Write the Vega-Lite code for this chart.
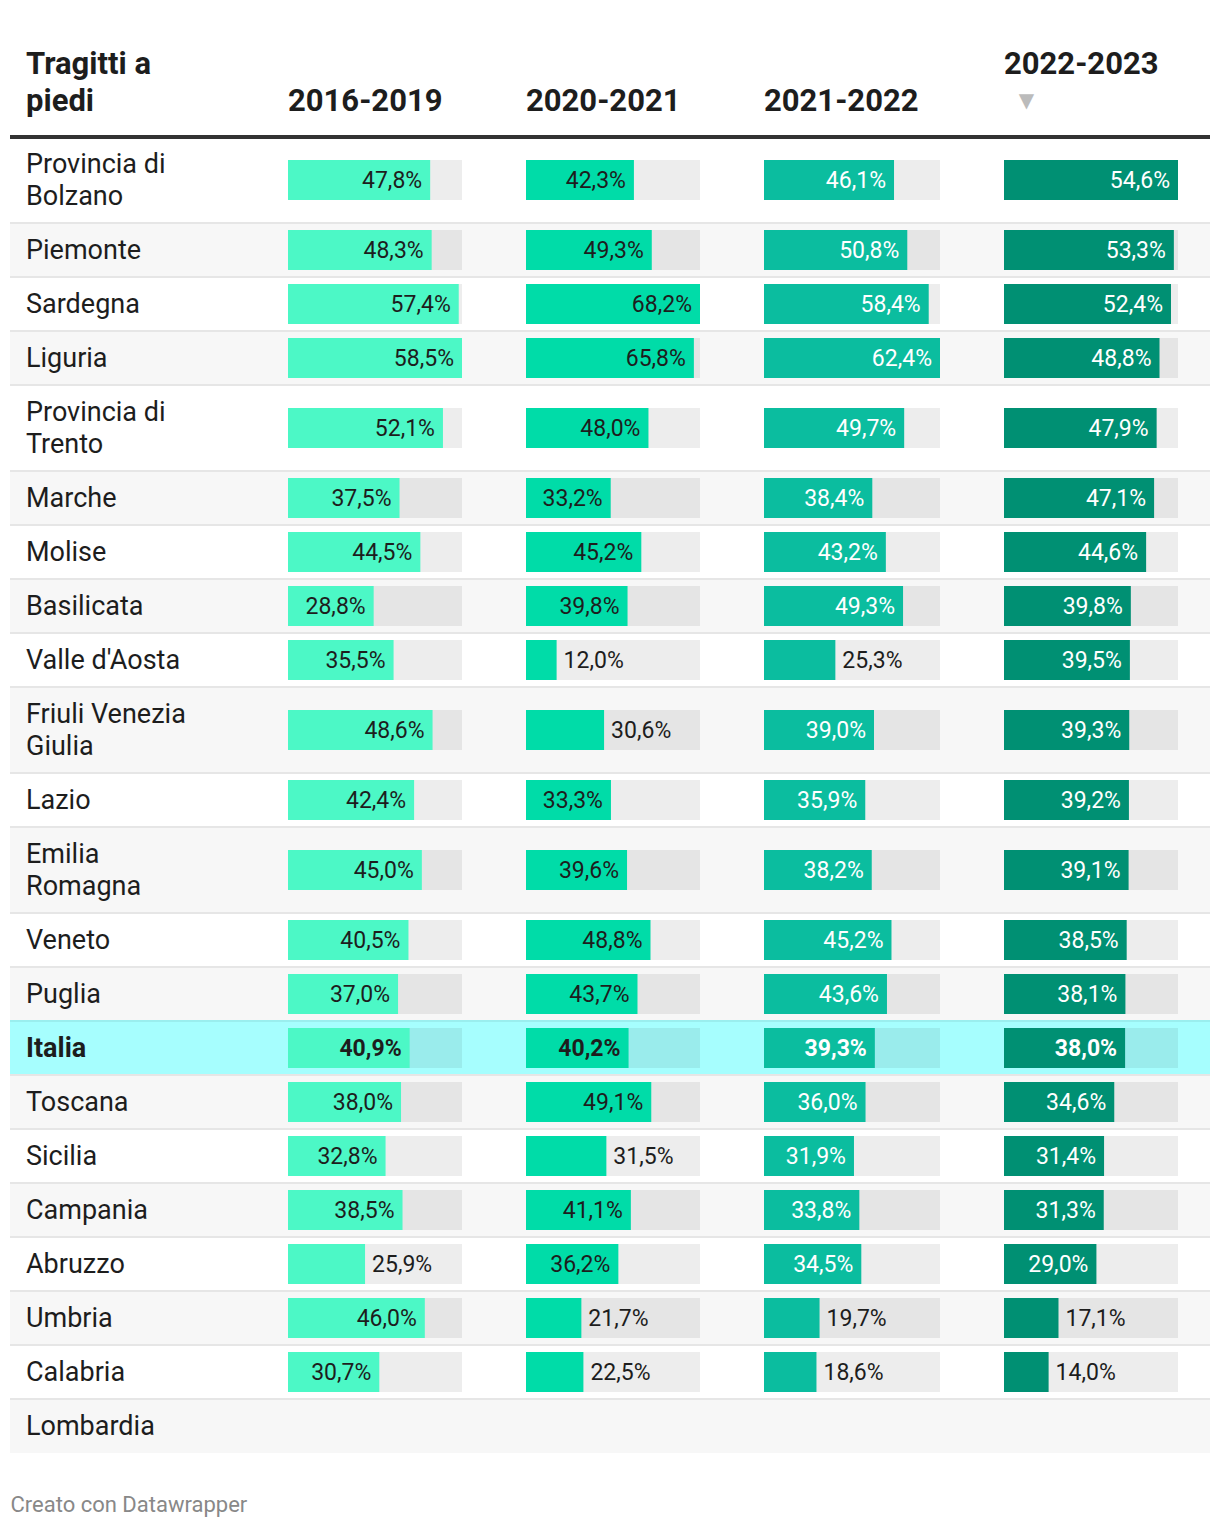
{
  "$schema": "https://vega.github.io/schema/vega-lite/v6.json",
  "padding": {"left": 8, "right": 10, "top": 48, "bottom": 10},
  "background": "#ffffff",
  "config": {
    "font": "Roboto",
    "view": {"stroke": null},
    "title": {"font": "Roboto", "fontSize": 31, "fontWeight": "bold", "color": "#1d1d1d", "anchor": "start", "lineHeight": 37, "frame": "group"}
  },
  "data": {"values": [
    {"regione": "Provincia di\nBolzano", "2016-2019": 47.8, "2020-2021": 42.3, "2021-2022": 46.1, "2022-2023": 54.6},
    {"regione": "Piemonte", "2016-2019": 48.3, "2020-2021": 49.3, "2021-2022": 50.8, "2022-2023": 53.3},
    {"regione": "Sardegna", "2016-2019": 57.4, "2020-2021": 68.2, "2021-2022": 58.4, "2022-2023": 52.4},
    {"regione": "Liguria", "2016-2019": 58.5, "2020-2021": 65.8, "2021-2022": 62.4, "2022-2023": 48.8},
    {"regione": "Provincia di\nTrento", "2016-2019": 52.1, "2020-2021": 48.0, "2021-2022": 49.7, "2022-2023": 47.9},
    {"regione": "Marche", "2016-2019": 37.5, "2020-2021": 33.2, "2021-2022": 38.4, "2022-2023": 47.1},
    {"regione": "Molise", "2016-2019": 44.5, "2020-2021": 45.2, "2021-2022": 43.2, "2022-2023": 44.6},
    {"regione": "Basilicata", "2016-2019": 28.8, "2020-2021": 39.8, "2021-2022": 49.3, "2022-2023": 39.8},
    {"regione": "Valle d'Aosta", "2016-2019": 35.5, "2020-2021": 12.0, "2021-2022": 25.3, "2022-2023": 39.5},
    {"regione": "Friuli Venezia\nGiulia", "2016-2019": 48.6, "2020-2021": 30.6, "2021-2022": 39.0, "2022-2023": 39.3},
    {"regione": "Lazio", "2016-2019": 42.4, "2020-2021": 33.3, "2021-2022": 35.9, "2022-2023": 39.2},
    {"regione": "Emilia\nRomagna", "2016-2019": 45.0, "2020-2021": 39.6, "2021-2022": 38.2, "2022-2023": 39.1},
    {"regione": "Veneto", "2016-2019": 40.5, "2020-2021": 48.8, "2021-2022": 45.2, "2022-2023": 38.5},
    {"regione": "Puglia", "2016-2019": 37.0, "2020-2021": 43.7, "2021-2022": 43.6, "2022-2023": 38.1},
    {"regione": "Italia", "2016-2019": 40.9, "2020-2021": 40.2, "2021-2022": 39.3, "2022-2023": 38.0},
    {"regione": "Toscana", "2016-2019": 38.0, "2020-2021": 49.1, "2021-2022": 36.0, "2022-2023": 34.6},
    {"regione": "Sicilia", "2016-2019": 32.8, "2020-2021": 31.5, "2021-2022": 31.9, "2022-2023": 31.4},
    {"regione": "Campania", "2016-2019": 38.5, "2020-2021": 41.1, "2021-2022": 33.8, "2022-2023": 31.3},
    {"regione": "Abruzzo", "2016-2019": 25.9, "2020-2021": 36.2, "2021-2022": 34.5, "2022-2023": 29.0},
    {"regione": "Umbria", "2016-2019": 46.0, "2020-2021": 21.7, "2021-2022": 19.7, "2022-2023": 17.1},
    {"regione": "Calabria", "2016-2019": 30.7, "2020-2021": 22.5, "2021-2022": 18.6, "2022-2023": 14.0},
    {"regione": "Lombardia", "2016-2019": null, "2020-2021": null, "2021-2022": null, "2022-2023": null}
  ]},
  "transform": [
    {"calculate": "length(split(datum.regione, '\\n'))", "as": "righe"},
    {"calculate": "22 + 32 * datum.righe", "as": "h"},
    {"window": [{"op": "sum", "field": "h", "as": "bottom"}, {"op": "row_number", "as": "idx"}], "frame": [null, 0]},
    {"calculate": "datum.bottom - datum.h", "as": "top"},
    {"calculate": "datum.top + datum.h / 2", "as": "mid"}
  ],
  "title": {"text": "Creato con Datawrapper", "orient": "bottom", "anchor": "start", "frame": "bounds", "fontSize": 22, "fontWeight": "normal", "color": "#888888", "offset": 42, "dx": 2},
  "spacing": 0,
  "bounds": "flush",
  "hconcat": [
    {
      "width": 278, "height": 1316,
      "title": {"text": ["Tragitti a", "piedi"], "dx": 16, "offset": 18},
      "layer": [
        {"mark": {"type": "rect"}, "encoding": {
          "y": {"field": "top", "type": "quantitative", "scale": {"nice": false, "zero": true, "reverse": true, "padding": 0}, "axis": null},
          "y2": {"field": "bottom"}, "x": {"value": 0}, "x2": {"value": "width"},
          "color": {"condition": [{"test": "datum.regione === 'Italia'", "value": "#a6fefe"}, {"test": "datum.idx % 2 === 0", "value": "#f7f7f7"}], "value": "#ffffff"}}},
        {"mark": {"type": "rule", "strokeWidth": 2}, "encoding": {
          "y": {"field": "top", "type": "quantitative"}, "x": {"value": 0}, "x2": {"value": "width"},
          "color": {"condition": {"test": "datum.regione === 'Italia'", "value": "#9aeeee"}, "value": "#e6e6e6"}}},
        {"mark": {"type": "text", "align": "left", "baseline": "middle", "dx": 16, "fontSize": 27, "lineHeight": 32, "lineBreak": "\n", "color": "#1d1d1d",
            "dy": {"expr": "1 - (datum.righe - 1) * 16"},
            "fontWeight": {"expr": "datum.regione === 'Italia' ? 'bold' : 'normal'"}}, "encoding": {
          "y": {"field": "mid", "type": "quantitative"}, "x": {"value": 0}, "text": {"field": "regione"}}},
        {"mark": {"type": "rule", "strokeWidth": 3, "color": "#333333"}, "encoding": {"y": {"datum": 0}, "x": {"value": 0}, "x2": {"value": "width"}}}
      ]
    },
    {
      "width": 238, "height": 1316,
      "title": {"text": "2016-2019", "offset": 18},
      "layer": [
        {"mark": {"type": "rect"}, "encoding": {
          "y": {"field": "top", "type": "quantitative", "scale": {"nice": false, "zero": true, "reverse": true, "padding": 0}, "axis": null},
          "y2": {"field": "bottom"}, "x": {"value": 0}, "x2": {"value": "width"},
          "color": {"condition": [{"test": "datum.regione === 'Italia'", "value": "#a6fefe"}, {"test": "datum.idx % 2 === 0", "value": "#f7f7f7"}], "value": "#ffffff"}}},
        {"mark": {"type": "rule", "strokeWidth": 2}, "encoding": {
          "y": {"field": "top", "type": "quantitative"}, "x": {"value": 0}, "x2": {"value": "width"},
          "color": {"condition": {"test": "datum.regione === 'Italia'", "value": "#9aeeee"}, "value": "#e6e6e6"}}},
        {"transform": [{"filter": "isValid(datum['2016-2019'])"}, {"joinaggregate": [{"op": "max", "field": "2016-2019", "as": "vmax"}]}],
          "mark": {"type": "bar", "orient": "horizontal", "height": 40, "color": "#000000", "opacity": 0.07},
          "encoding": {"y": {"field": "mid", "type": "quantitative"}, "x": {"field": "vmax", "type": "quantitative", "scale": {"range": [0, 174], "nice": false, "zero": true, "padding": 0}, "axis": null}}},
        {"transform": [{"filter": "isValid(datum['2016-2019'])"}],
          "mark": {"type": "bar", "orient": "horizontal", "height": 40, "color": "#4cf8c6"},
          "encoding": {"y": {"field": "mid", "type": "quantitative"}, "x": {"field": "2016-2019", "type": "quantitative"}}},
        {"transform": [{"filter": "isValid(datum['2016-2019'])"}, {"joinaggregate": [{"op": "max", "field": "2016-2019", "as": "vmax"}]}, {"calculate": "replace(format(datum['2016-2019'], '.1f'), '.', ',') + '%'", "as": "etichetta"}],
          "mark": {"type": "text", "baseline": "middle", "fontSize": 23, "color": "#1d1d1d", "dy": 1,
            "align": {"expr": "datum['2016-2019'] / datum.vmax > 0.475 ? 'right' : 'left'"},
            "dx": {"expr": "datum['2016-2019'] / datum.vmax > 0.475 ? -8 : 7"},
            "fontWeight": {"expr": "datum.regione === 'Italia' ? 'bold' : 'normal'"}},
          "encoding": {"y": {"field": "mid", "type": "quantitative"}, "x": {"field": "2016-2019", "type": "quantitative"}, "text": {"field": "etichetta"}}},
        {"mark": {"type": "rule", "strokeWidth": 3, "color": "#333333"}, "encoding": {"y": {"datum": 0}, "x": {"value": 0}, "x2": {"value": "width"}}}
      ]
    },
    {
      "width": 238, "height": 1316,
      "title": {"text": "2020-2021", "offset": 18},
      "layer": [
        {"mark": {"type": "rect"}, "encoding": {
          "y": {"field": "top", "type": "quantitative", "scale": {"nice": false, "zero": true, "reverse": true, "padding": 0}, "axis": null},
          "y2": {"field": "bottom"}, "x": {"value": 0}, "x2": {"value": "width"},
          "color": {"condition": [{"test": "datum.regione === 'Italia'", "value": "#a6fefe"}, {"test": "datum.idx % 2 === 0", "value": "#f7f7f7"}], "value": "#ffffff"}}},
        {"mark": {"type": "rule", "strokeWidth": 2}, "encoding": {
          "y": {"field": "top", "type": "quantitative"}, "x": {"value": 0}, "x2": {"value": "width"},
          "color": {"condition": {"test": "datum.regione === 'Italia'", "value": "#9aeeee"}, "value": "#e6e6e6"}}},
        {"transform": [{"filter": "isValid(datum['2020-2021'])"}, {"joinaggregate": [{"op": "max", "field": "2020-2021", "as": "vmax"}]}],
          "mark": {"type": "bar", "orient": "horizontal", "height": 40, "color": "#000000", "opacity": 0.07},
          "encoding": {"y": {"field": "mid", "type": "quantitative"}, "x": {"field": "vmax", "type": "quantitative", "scale": {"range": [0, 174], "nice": false, "zero": true, "padding": 0}, "axis": null}}},
        {"transform": [{"filter": "isValid(datum['2020-2021'])"}],
          "mark": {"type": "bar", "orient": "horizontal", "height": 40, "color": "#00dca8"},
          "encoding": {"y": {"field": "mid", "type": "quantitative"}, "x": {"field": "2020-2021", "type": "quantitative"}}},
        {"transform": [{"filter": "isValid(datum['2020-2021'])"}, {"joinaggregate": [{"op": "max", "field": "2020-2021", "as": "vmax"}]}, {"calculate": "replace(format(datum['2020-2021'], '.1f'), '.', ',') + '%'", "as": "etichetta"}],
          "mark": {"type": "text", "baseline": "middle", "fontSize": 23, "color": "#1d1d1d", "dy": 1,
            "align": {"expr": "datum['2020-2021'] / datum.vmax > 0.475 ? 'right' : 'left'"},
            "dx": {"expr": "datum['2020-2021'] / datum.vmax > 0.475 ? -8 : 7"},
            "fontWeight": {"expr": "datum.regione === 'Italia' ? 'bold' : 'normal'"}},
          "encoding": {"y": {"field": "mid", "type": "quantitative"}, "x": {"field": "2020-2021", "type": "quantitative"}, "text": {"field": "etichetta"}}},
        {"mark": {"type": "rule", "strokeWidth": 3, "color": "#333333"}, "encoding": {"y": {"datum": 0}, "x": {"value": 0}, "x2": {"value": "width"}}}
      ]
    },
    {
      "width": 240, "height": 1316,
      "title": {"text": "2021-2022", "offset": 18},
      "layer": [
        {"mark": {"type": "rect"}, "encoding": {
          "y": {"field": "top", "type": "quantitative", "scale": {"nice": false, "zero": true, "reverse": true, "padding": 0}, "axis": null},
          "y2": {"field": "bottom"}, "x": {"value": 0}, "x2": {"value": "width"},
          "color": {"condition": [{"test": "datum.regione === 'Italia'", "value": "#a6fefe"}, {"test": "datum.idx % 2 === 0", "value": "#f7f7f7"}], "value": "#ffffff"}}},
        {"mark": {"type": "rule", "strokeWidth": 2}, "encoding": {
          "y": {"field": "top", "type": "quantitative"}, "x": {"value": 0}, "x2": {"value": "width"},
          "color": {"condition": {"test": "datum.regione === 'Italia'", "value": "#9aeeee"}, "value": "#e6e6e6"}}},
        {"transform": [{"filter": "isValid(datum['2021-2022'])"}, {"joinaggregate": [{"op": "max", "field": "2021-2022", "as": "vmax"}]}],
          "mark": {"type": "bar", "orient": "horizontal", "height": 40, "color": "#000000", "opacity": 0.07},
          "encoding": {"y": {"field": "mid", "type": "quantitative"}, "x": {"field": "vmax", "type": "quantitative", "scale": {"range": [0, 176], "nice": false, "zero": true, "padding": 0}, "axis": null}}},
        {"transform": [{"filter": "isValid(datum['2021-2022'])"}],
          "mark": {"type": "bar", "orient": "horizontal", "height": 40, "color": "#0bbd9f"},
          "encoding": {"y": {"field": "mid", "type": "quantitative"}, "x": {"field": "2021-2022", "type": "quantitative"}}},
        {"transform": [{"filter": "isValid(datum['2021-2022'])"}, {"joinaggregate": [{"op": "max", "field": "2021-2022", "as": "vmax"}]}, {"calculate": "replace(format(datum['2021-2022'], '.1f'), '.', ',') + '%'", "as": "etichetta"}],
          "mark": {"type": "text", "baseline": "middle", "fontSize": 23, "dy": 1,
            "align": {"expr": "datum['2021-2022'] / datum.vmax > 0.475 ? 'right' : 'left'"},
            "dx": {"expr": "datum['2021-2022'] / datum.vmax > 0.475 ? -8 : 7"},
            "fontWeight": {"expr": "datum.regione === 'Italia' ? 'bold' : 'normal'"}},
          "encoding": {"y": {"field": "mid", "type": "quantitative"}, "x": {"field": "2021-2022", "type": "quantitative"}, "text": {"field": "etichetta"},
            "color": {"condition": {"test": "datum['2021-2022'] / datum.vmax > 0.475", "value": "#ffffff"}, "value": "#1d1d1d"}}},
        {"mark": {"type": "rule", "strokeWidth": 3, "color": "#333333"}, "encoding": {"y": {"datum": 0}, "x": {"value": 0}, "x2": {"value": "width"}}}
      ]
    },
    {
      "width": 206, "height": 1316,
      "title": {"text": "2022-2023", "subtitle": "\u2800▼", "subtitleFont": "DejaVu Sans", "subtitleFontSize": 20, "subtitleColor": "#bbbbbb", "subtitlePadding": 10, "offset": 24},
      "layer": [
        {"mark": {"type": "rect"}, "encoding": {
          "y": {"field": "top", "type": "quantitative", "scale": {"nice": false, "zero": true, "reverse": true, "padding": 0}, "axis": null},
          "y2": {"field": "bottom"}, "x": {"value": 0}, "x2": {"value": "width"},
          "color": {"condition": [{"test": "datum.regione === 'Italia'", "value": "#a6fefe"}, {"test": "datum.idx % 2 === 0", "value": "#f7f7f7"}], "value": "#ffffff"}}},
        {"mark": {"type": "rule", "strokeWidth": 2}, "encoding": {
          "y": {"field": "top", "type": "quantitative"}, "x": {"value": 0}, "x2": {"value": "width"},
          "color": {"condition": {"test": "datum.regione === 'Italia'", "value": "#9aeeee"}, "value": "#e6e6e6"}}},
        {"transform": [{"filter": "isValid(datum['2022-2023'])"}, {"joinaggregate": [{"op": "max", "field": "2022-2023", "as": "vmax"}]}],
          "mark": {"type": "bar", "orient": "horizontal", "height": 40, "color": "#000000", "opacity": 0.07},
          "encoding": {"y": {"field": "mid", "type": "quantitative"}, "x": {"field": "vmax", "type": "quantitative", "scale": {"range": [0, 174], "nice": false, "zero": true, "padding": 0}, "axis": null}}},
        {"transform": [{"filter": "isValid(datum['2022-2023'])"}],
          "mark": {"type": "bar", "orient": "horizontal", "height": 40, "color": "#009073"},
          "encoding": {"y": {"field": "mid", "type": "quantitative"}, "x": {"field": "2022-2023", "type": "quantitative"}}},
        {"transform": [{"filter": "isValid(datum['2022-2023'])"}, {"joinaggregate": [{"op": "max", "field": "2022-2023", "as": "vmax"}]}, {"calculate": "replace(format(datum['2022-2023'], '.1f'), '.', ',') + '%'", "as": "etichetta"}],
          "mark": {"type": "text", "baseline": "middle", "fontSize": 23, "dy": 1,
            "align": {"expr": "datum['2022-2023'] / datum.vmax > 0.475 ? 'right' : 'left'"},
            "dx": {"expr": "datum['2022-2023'] / datum.vmax > 0.475 ? -8 : 7"},
            "fontWeight": {"expr": "datum.regione === 'Italia' ? 'bold' : 'normal'"}},
          "encoding": {"y": {"field": "mid", "type": "quantitative"}, "x": {"field": "2022-2023", "type": "quantitative"}, "text": {"field": "etichetta"},
            "color": {"condition": {"test": "datum['2022-2023'] / datum.vmax > 0.475", "value": "#ffffff"}, "value": "#1d1d1d"}}},
        {"mark": {"type": "rule", "strokeWidth": 3, "color": "#333333"}, "encoding": {"y": {"datum": 0}, "x": {"value": 0}, "x2": {"value": "width"}}}
      ]
    }
  ]
}
